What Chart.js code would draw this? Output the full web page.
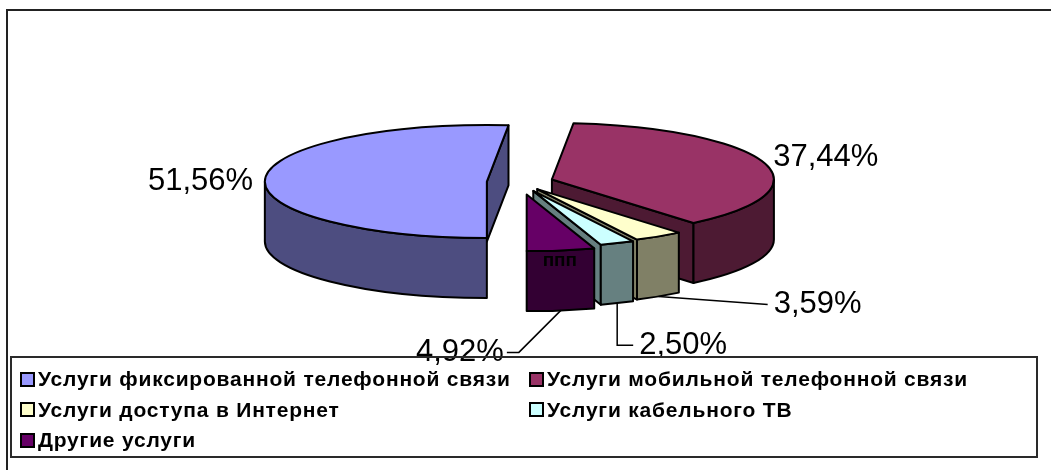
<!DOCTYPE html>
<html>
<head>
<meta charset="utf-8">
<script src="https://cdn.jsdelivr.net/npm/chart.js@4"></script>
<style>
  html, body { margin: 0; padding: 0; background: #fff; }
  #wrap { position: relative; width: 1051px; height: 470px; overflow: hidden; }
  #frame { position: absolute; left: 6px; top: 9px; width: 1200px; height: 600px;
           border-top: 2px solid #222; border-left: 2px solid #222; }
  #chart { position: absolute; left: 0; top: 0; width: 1051px; height: 470px; }
  #legend { position: absolute; left: 10px; top: 356px; width: 1028px; height: 102px;
            box-sizing: border-box; border: 2px solid #2a2a2a; padding: 6px 0 0 8px;
            display: grid; grid-template-columns: 509px 1fr; grid-auto-rows: 30.5px; }
  .item { display: flex; align-items: center; white-space: nowrap; letter-spacing: 0.8px;
          font: bold 21px "Liberation Sans", Arial, sans-serif; color: #000; }
  .box { width: 11px; height: 11px; border: 2px solid #000; margin-right: 3px; flex: none; }
</style>
</head>
<body>
<div id="wrap">
  <div id="frame"></div>
  <canvas id="chart"></canvas>
  <div id="legend"></div>
</div>
<script>
// данные диаграммы
const categories = [
    'Услуги фиксированной телефонной связи',
    'Услуги мобильной телефонной связи',
    'Услуги доступа в Интернет',
    'Услуги кабельного ТВ',
    'Другие услуги'
];
const shares = [51.56, 37.44, 3.59, 2.50, 4.92];
const shareLabels = shares.map(v => v.toFixed(2).replace('.', ',') + '%');

const sliceColors = ['#9999FF', '#993366', '#FFFFCC', '#CCFFFF', '#660066'];

// затемнение цвета для боковых граней
function darken(hex) {
    const n = parseInt(hex.slice(1), 16);
    const r = (n >> 16) & 255, g = (n >> 8) & 255, b = n & 255;
    return `rgb(${Math.round(r / 2)}, ${Math.round(g / 2)}, ${Math.round(b / 2)})`;
}

// плагин: псевдо-3D круговая диаграмма (как в Excel)
const pie3d = {
    id: 'pie3d',
    beforeDatasetsDraw(chart, args, opts) {
        const ctx = chart.ctx;
        const arcs = chart.getDatasetMeta(0).data;
        const geos = arcs.map((arc, i) => {
            const mid = (arc.startAngle + arc.endAngle) / 2;
            const e = opts.explode[i] * arc.outerRadius;
            return {
                i, arc, x: arc.x, y: arc.y, r: arc.outerRadius,
                a0: arc.startAngle, a1: arc.endAngle, mid,
                ex: Math.cos(mid) * e, ey: Math.sin(mid) * e,
                sx: opts.rx / arc.outerRadius, sy: opts.ry / arc.outerRadius,
                color: arc.options.backgroundColor
            };
        });
        chart.$pie3d = geos;

        const withT = (g, dy, fn) => {
            ctx.save();
            ctx.translate(opts.cx, opts.cy + dy);
            ctx.scale(g.sx, g.sy);
            ctx.translate(g.ex - g.x, g.ey - g.y);
            fn();
            ctx.restore();
        };
        const h = opts.depth;

        ctx.save();
        ctx.lineWidth = 2;
        ctx.lineJoin = 'round';
        ctx.strokeStyle = '#000';

        const order = geos.slice().sort((a, b) => Math.sin(a.mid) - Math.sin(b.mid));
        order.forEach(g => {
            ctx.fillStyle = darken(g.color);
            // радиальные грани
            [[g.a0, -1], [g.a1, 1]].forEach(([t, s]) => {
                if (Math.sin(t + s * Math.PI / 2) <= 0.01) return;
                const px = g.x + g.r * Math.cos(t), py = g.y + g.r * Math.sin(t);
                ctx.beginPath();
                withT(g, 0, () => { ctx.moveTo(g.x, g.y); ctx.lineTo(px, py); });
                withT(g, h, () => { ctx.lineTo(px, py); ctx.lineTo(g.x, g.y); });
                ctx.closePath();
                ctx.fill();
                ctx.stroke();
            });
            // внешняя дуга (видимая часть)
            for (let k = -1; k <= 2; k++) {
                const lo = Math.max(g.a0, 2 * Math.PI * k);
                const hi = Math.min(g.a1, 2 * Math.PI * k + Math.PI);
                if (hi <= lo) continue;
                ctx.beginPath();
                withT(g, 0, () => ctx.arc(g.x, g.y, g.r, lo, hi));
                withT(g, h, () => ctx.arc(g.x, g.y, g.r, hi, lo, true));
                ctx.closePath();
                ctx.fill();
                ctx.stroke();
            }
            // верхняя грань — рисует сам Chart.js
            withT(g, 0, () => g.arc.draw(ctx));
            ctx.beginPath();
            withT(g, 0, () => {
                ctx.moveTo(g.x, g.y);
                ctx.arc(g.x, g.y, g.r, g.a0, g.a1);
                ctx.closePath();
            });
            ctx.stroke();
        });
        ctx.restore();
        return false;
    },
    afterDraw(chart, args, opts) {
        const geos = chart.$pie3d;
        if (!geos) return;
        const ctx = chart.ctx;
        const proj = (g, t, dy) => ({
            x: opts.cx + (g.ex + g.r * Math.cos(t)) * g.sx,
            y: opts.cy + dy + (g.ey + g.r * Math.sin(t)) * g.sy
        });
        ctx.save();
        ctx.fillStyle = '#000';
        ctx.strokeStyle = '#000';
        ctx.lineWidth = 1.5;
        ctx.textBaseline = 'middle';
        opts.labels.forEach((lb, i) => {
            const g = geos[i];
            const p = proj(g, g.mid, lb.at === 'bottom' ? opts.depth : 0);
            let end = p;
            if (lb.path) {
                ctx.beginPath();
                ctx.moveTo(p.x, p.y);
                lb.path.forEach(([dx, dy]) => {
                    end = { x: p.x + dx, y: p.y + dy };
                    ctx.lineTo(end.x, end.y);
                });
                ctx.stroke();
            }
            ctx.font = '31px "Liberation Sans", Arial, sans-serif';
            ctx.textAlign = lb.align;
            ctx.fillText(shareLabels[i], end.x + (lb.dx || 0), end.y + (lb.dy || 0));
        });
        // надпись на передней грани «Другие услуги»
        const m = opts.mark;
        const g = geos[m.index];
        const p = proj(g, g.mid, 0);
        ctx.font = 'bold 19px "Liberation Sans", Arial, sans-serif';
        ctx.textAlign = 'center';
        ctx.fillText(m.text, p.x + m.dx, p.y + m.dy);
        ctx.restore();
    }
};

document.addEventListener('DOMContentLoaded', function() {
    new Chart(document.getElementById('chart'), {
        type: 'pie',
        data: {
            labels: categories,
            datasets: [{
                data: shares,
                backgroundColor: sliceColors,
                borderWidth: 0
            }]
        },
        options: {
            responsive: false,
            animation: false,
            events: [],
            rotation: 180,
            plugins: {
                legend: { display: false },
                tooltip: { enabled: false },
                pie3d: {
                    cx: 519, cy: 182, rx: 222, ry: 56.5, depth: 60,
                    explode: [0.145, 0.155, 0.15, 0.17, 0.225],
                    labels: [
                        { at: 'top', align: 'right', dx: -12, dy: 3 },
                        { at: 'top', align: 'left', dx: 9, dy: -5 },
                        { at: 'bottom', align: 'left', path: [[109, 8]], dx: 6 },
                        { at: 'bottom', align: 'left', path: [[0, 42], [16, 42]], dx: 6 },
                        { at: 'bottom', align: 'right', path: [[-42, 42], [-54, 42]], dx: -3 }
                    ],
                    mark: { index: 4, text: 'ппп', dx: -1, dy: 10 }
                }
            }
        },
        plugins: [pie3d]
    });

    // легенда
    const legend = document.getElementById('legend');
    categories.forEach((name, i) => {
        const item = document.createElement('div');
        item.className = 'item';
        item.innerHTML = `<span class="box" style="background:${sliceColors[i]}"></span><span>${name}</span>`;
        legend.appendChild(item);
    });
});
</script>
</body>
</html>
